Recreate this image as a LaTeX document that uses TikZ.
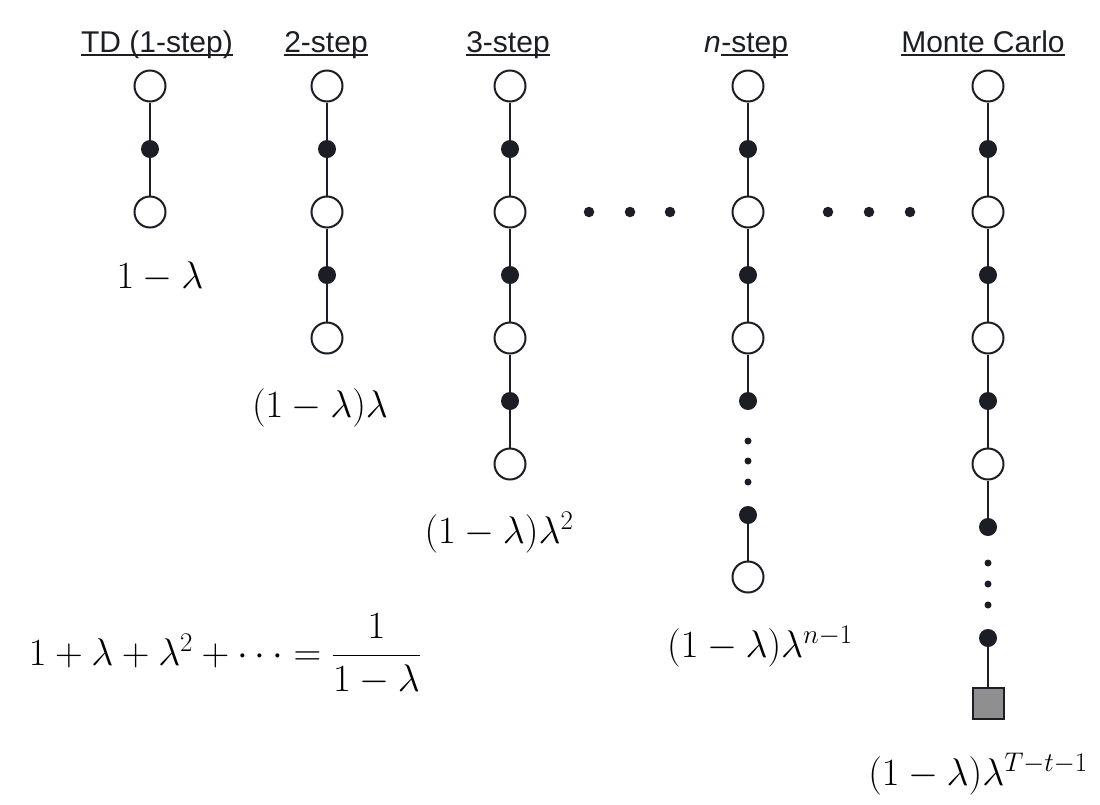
\RequirePackage{fix-cm}
\documentclass[tikz,border=0pt]{standalone}
\usepackage{fontspec}
\newfontfamily\hdrfont{Liberation Sans}
\definecolor{ink}{HTML}{1C1E26}
\definecolor{sq}{HTML}{8F8F8F}
\begin{document}
\begin{tikzpicture}[x=1pt,y=-1pt,
  opn/.style={circle, draw=ink, line width=2pt, fill=white, minimum size=31pt, inner sep=0pt},
  fil/.style={circle, fill=ink, minimum size=18pt, inner sep=0pt},
  dotm/.style={circle, fill=ink, minimum size=7pt, inner sep=0pt},
  doth/.style={circle, fill=ink, minimum size=10.5pt, inner sep=0pt},
  term/.style={rectangle, draw=ink, line width=2pt, fill=sq, minimum size=31pt, inner sep=0pt},
  edge/.style={draw=ink, line width=2pt},
  hdr/.style={font=\hdrfont\fontsize{30}{36}\selectfont, text=ink, inner sep=0pt, anchor=base},
  uline/.style={line width=1.3pt, draw=ink},
  lbl/.style={font=\fontsize{38.5}{46}\selectfont, inner sep=0pt, anchor=base}]
\fill[white] (0,0) rectangle (1100,804);
\useasboundingbox (0,0) rectangle (1100,804);

% headers
\node[hdr] (h1) at (157,52) {TD (1-step)};
\node[hdr] (h2) at (326,52) {2-step};
\node[hdr] (h3) at (508,52) {3-step};
\node[hdr, anchor=base west] (h4n) at (704,52) {\itshape n};
\node[hdr, anchor=base west] (h4) at (h4n.base east) {-step};
\node[hdr] (h5) at (983,52) {Monte Carlo};
\foreach \h in {h1,h2,h3,h4,h5}
  \draw[uline] ([yshift=-3pt]\h.base west) -- ([yshift=-3pt]\h.base east);

% chains
\foreach \col/\x/\n in {a/150/3, b/327/5, c/510/7, d/748/6, e/988/8} {
  \foreach \i in {1,...,\n} {
    \pgfmathsetmacro\yy{86+63*(\i-1)}
    \pgfmathtruncatemacro\odd{mod(\i,2)}
    \ifnum\odd=1
      \node[opn] (\col\i) at (\x,\yy) {};
    \else
      \node[fil] (\col\i) at (\x,\yy) {};
    \fi
    \ifnum\i>1
      \pgfmathtruncatemacro\prev{\i-1}
      \draw[edge] (\col\prev) -- (\col\i);
    \fi
  }
}

% n-step tail
\node[dotm] (dv1) at (748,441) {};
\node[dotm] (dv2) at (748,461) {};
\node[dotm] (dv3) at (748,482) {};
\node[fil] (d7) at (748,515) {};
\node[opn] (d8) at (748,577) {};
\draw[edge] (d7) -- (d8);

% Monte Carlo tail
\node[dotm] (ev1) at (988,563) {};
\node[dotm] (ev2) at (988,584) {};
\node[dotm] (ev3) at (988,605) {};
\node[fil] (e9) at (988,638) {};
\node[term] (e10) at (988,703) {};
\draw[edge] (e9) -- (e10);

% horizontal ellipses
\node[doth] (hd1) at (589,212) {};
\node[doth] (hd2) at (630,212) {};
\node[doth] (hd3) at (670,212) {};
\node[doth] (hd4) at (828,212) {};
\node[doth] (hd5) at (869,212) {};
\node[doth] (hd6) at (910,212) {};

% weights
\node[lbl] (l1) at (160,288) {$1-\lambda$};
\node[lbl] (l2) at (320,417) {$(1-\lambda)\lambda$};
\node[lbl] (l3) at (499,543) {$(1-\lambda)\lambda^2$};
\node[lbl] (l4) at (760,657) {$(1-\lambda)\lambda^{n-1}$};
\node[lbl] (l5) at (978,785) {$(1-\lambda)\lambda^{T-t-1}$};
\node[lbl] (sum) at (225,665) {$1+\lambda+\lambda^2+\cdots=\displaystyle\frac{1}{1-\lambda}$};
\end{tikzpicture}
\end{document}
